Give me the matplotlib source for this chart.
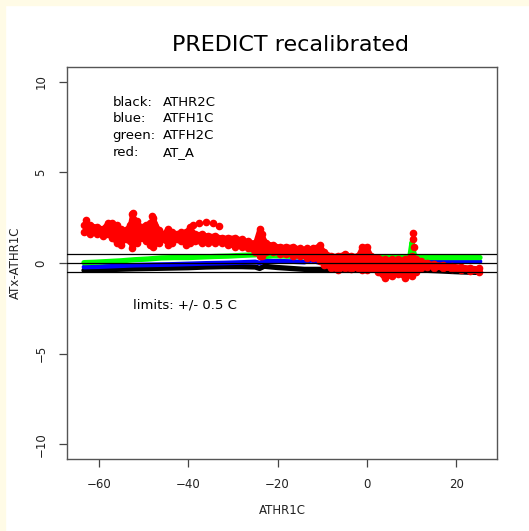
import numpy as np
import matplotlib.pyplot as plt
from matplotlib.patches import Rectangle

# band centres (x = ATHR1C, y = ATx - ATHR1C)
black_x = [-63.3, -60, -56, -52, -48, -44, -40, -36, -32, -28, -25, -24, -23, -20, -17, -14,
           -11, -8, -5, -2, 1, 4, 7, 9.6, 10.1, 10.6, 13, 16, 19, 22, 25.3]
black_y = [-0.4, -0.38, -0.35, -0.32, -0.3, -0.28, -0.26, -0.22, -0.2, -0.2, -0.22, -0.3, -0.18,
           -0.25, -0.3, -0.35, -0.35, -0.35, -0.35, -0.35, -0.35, -0.35, -0.35, -0.2, 0.5, -0.3,
           -0.4, -0.43, -0.47, -0.5, -0.52]

blue_x = [-63.3, -60, -56, -52, -48, -44, -40, -36, -32, -28, -25, -24, -23, -20, -17, -14,
          -12.5, -11, -8, -5, -2, 1, 4, 7, 9.7, 10.2, 10.7, 12.5, 15, 18, 21, 25.3]
blue_y = [-0.22, -0.2, -0.16, -0.12, -0.1, -0.08, -0.05, -0.02, 0.0, 0.03, 0.06, 0.0, 0.1,
          0.1, 0.08, 0.05, 0.15, 0.05, 0.03, 0.03, 0.05, 0.05, 0.05, 0.08, 0.3, 1.02, 0.2, 0.1,
          0.1, 0.1, 0.1, 0.08]

green_x = [-63.3, -61, -58, -55, -52, -49, -46, -43, -40, -37, -34, -31, -28, -25, -24, -23,
           -21, -18, -15, -12, -9, -6, -3, 0, 3, 6, 9.6, 10.1, 10.6, 12, 15, 18, 21, 25.3]
green_y = [0.02, 0.04, 0.08, 0.12, 0.18, 0.22, 0.28, 0.3, 0.3, 0.33, 0.36, 0.38, 0.42, 0.45,
           0.5, 0.35, 0.4, 0.38, 0.35, 0.32, 0.3, 0.3, 0.28, 0.28, 0.3, 0.3, 0.35, 1.15, 0.4,
           0.3, 0.3, 0.3, 0.3, 0.3]

# red: lower / upper edge of the point cloud
red_x = [-63.3, -62, -60.5, -59, -58, -57, -56, -55, -54, -53, -52.5, -51.5, -50.5, -49.5,
         -48.5, -47.8, -46.5, -45.5, -44.5, -43.5, -42.5, -41.5, -40.5, -39.5, -38.5, -37,
         -35.5, -34, -32.5, -31, -29.5, -28, -26.5, -25, -24, -23.5, -22.5, -21, -19.5, -18,
         -16.5, -15, -13.5, -12, -10.5, -9.5, -8, -6.5, -5, -3.5, -2, -1, 0, 1, 2.5, 4, 5.5,
         7, 8.5, 10, 11, 12, 13.5, 15, 17, 19, 21, 23, 25]
red_lo = [1.7, 1.6, 1.6, 1.5, 1.6, 1.4, 1.1, 1.0, 1.3, 1.2, 0.8, 1.1, 1.4, 1.2, 1.0, 0.9, 1.1,
          1.3, 1.0, 1.1, 1.3, 1.2, 1.0, 1.1, 1.2, 1.1, 1.1, 1.1, 1.1, 1.0, 0.9, 0.9, 0.8, 0.6,
          0.4, 0.4, 0.6, 0.6, 0.5, 0.5, 0.4, 0.4, 0.3, 0.3, 0.1, -0.1, -0.3, -0.4, -0.3, -0.35,
          -0.3, -0.4, -0.4, -0.3, -0.5, -0.85, -0.7, -0.6, -0.8, -0.7, -0.5, -0.25, -0.2, -0.25,
          -0.3, -0.35, -0.4, -0.45, -0.5]
red_hi = [2.1, 2.1, 2.0, 1.9, 2.2, 2.2, 2.1, 1.9, 1.8, 2.1, 2.7, 2.3, 2.0, 2.1, 2.2, 2.5, 1.8,
          1.6, 1.9, 1.7, 1.6, 1.7, 1.7, 2.0, 1.6, 1.6, 1.5, 1.5, 1.4, 1.4, 1.4, 1.3, 1.2, 1.1,
          1.9, 1.6, 1.1, 1.0, 0.9, 0.9, 0.9, 0.8, 0.8, 0.8, 1.0, 0.6, 0.4, 0.4, 0.5, 0.4, 0.4,
          0.9, 0.9, 0.4, 0.3, 0.2, 0.2, 0.2, 0.2, 0.4, 0.2, 0.1, 0.0, -0.05, -0.1, -0.15, -0.2,
          -0.25, -0.3]
red_dot_x = [-62.8, -52.4, -48, -39, -37.5, -36, -34.5, -33, 10.2, 10.3, 10.5]
red_dot_y = [2.38, 2.75, 2.6, 2.1, 2.2, 2.25, 2.2, 2.05, 1.64, 1.33, 0.9]

legend_names = ["black:", "blue:", "green:", "red:"]
legend_items = ["ATHR2C", "ATFH1C", "ATFH2C", "AT_A"]
limits = [-0.5, 0, 0.5]

fig = plt.figure(figsize=(5.29, 5.31), dpi=100)
fig.patches.append(Rectangle((0, 1 - 5 / 531), 1, 5 / 531, transform=fig.transFigure,
                             color="#fffbe6", zorder=0))
fig.patches.append(Rectangle((0, 0), 5 / 529, 1, transform=fig.transFigure,
                             color="#fffbe6", zorder=0))
ax = fig.add_axes([67 / 529, 1 - 459 / 531, 430 / 529, 392 / 531])

ms = 5.5
band = dict(solid_capstyle="round", solid_joinstyle="round")
ax.plot(black_x, black_y, "-", color="black", lw=3.8, **band)
ax.plot(blue_x, blue_y, "-", color="blue", lw=3.4, **band)
ax.plot(green_x, green_y, "-", color="#00ff00", lw=3.8, **band)

red_x = np.array(red_x)
red_lo = np.array(red_lo)
red_hi = np.array(red_hi)
ax.fill_between(red_x, red_lo, red_hi, facecolor="red", edgecolor="red", lw=2, zorder=3)
ax.plot(red_x, red_lo, "-o", color="red", lw=3, ms=ms, mec="none", zorder=3, **band)
ax.plot(red_x, red_hi, "-o", color="red", lw=3, ms=ms, mec="none", zorder=3, **band)
ax.plot(red_dot_x, red_dot_y, "o", color="red", ms=ms, mec="none", zorder=3)

for h in limits:
    ax.axhline(h, color="black", lw=0.9, zorder=5)

ax.set_xlim(-67.1, 29.1)
ax.set_ylim(-10.8, 10.8)
ax.set_xticks([-60, -40, -20, 0, 20])
ax.set_yticks([-10, -5, 0, 5, 10])
ax.tick_params(direction="out", length=6, width=0.9, color="#444444", labelsize=8.5,
               labelcolor="#222222", pad=8)
for lab in ax.get_yticklabels():
    lab.set_rotation(90)
    lab.set_va("center")
for s in ax.spines.values():
    s.set_color("#555555")
    s.set_linewidth(1.0)

ax.set_xlabel("ATHR1C", fontsize=8.5, labelpad=9, color="#222222")
ax.set_ylabel("ATx-ATHR1C", fontsize=8.5, labelpad=9, color="#222222")
fig.text(290 / 529, 1 - 45 / 531, "PREDICT recalibrated", fontsize=16, ha="center",
         va="center")

leg_y = [8.84, 7.96, 7.02, 6.09]
for name, item, y in zip(legend_names, legend_items, leg_y):
    ax.text(-56.9, y, name, fontsize=9.5, ha="left", va="center")
    ax.text(-45.6, y, item, fontsize=9.5, ha="left", va="center")
ax.text(-52.4, -2.34, "limits: +/- 0.5 C", fontsize=9.5, ha="left", va="center")

fig.savefig("out.png", dpi=100)
